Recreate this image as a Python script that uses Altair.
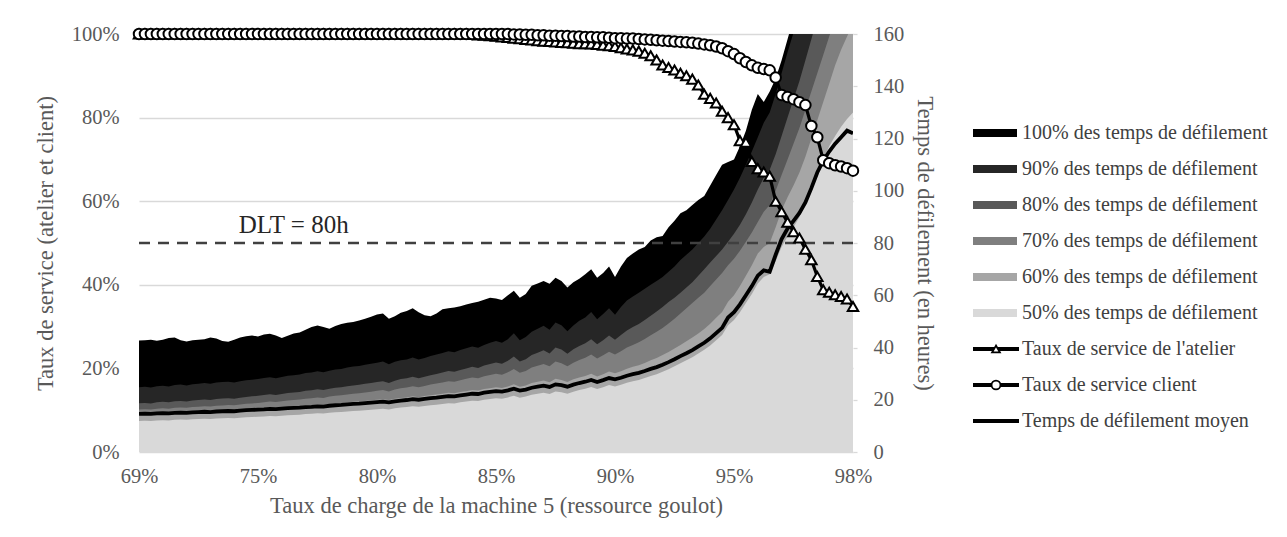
import altair as alt
import pandas as pd

FONT = "Liberation Serif"

# ---------------- data ----------------
x_tick_idx = [0, 20, 40, 60, 80, 100, 120]
x_tick_labels = ["69%", "75%", "80%", "85%", "90%", "95%", "98%"]

# lead-time percentiles (hours), one value per load level (121 levels)
p100 = [42.7, 42.8, 43.0, 42.6, 43.0, 43.6, 43.8, 42.8, 42.3, 42.8,
        43.0, 43.2, 43.8, 43.4, 42.5, 42.2, 43.0, 43.8, 44.3, 44.6,
        44.2, 45.0, 45.3, 44.6, 43.6, 44.5, 45.4, 45.7, 46.8, 47.8,
        48.4, 47.8, 47.2, 48.2, 49.0, 49.5, 49.8, 50.3, 51.0, 51.8,
        52.6, 53.0, 51.0, 52.0, 53.3, 54.0, 55.0, 53.5, 52.3, 52.0,
        53.0, 54.6, 55.0, 55.3, 55.8, 56.5, 57.0, 57.5, 58.3, 59.0,
        58.8, 58.2, 60.0, 61.7, 59.0, 60.5, 63.6, 64.5, 65.5, 64.4,
        66.7, 65.5, 63.0, 65.0, 66.3, 68.0, 70.0, 66.7, 68.5, 71.0,
        67.0, 71.0, 74.3, 76.0, 77.5, 78.5, 81.0, 82.2, 82.7, 86.0,
        88.5, 91.4, 92.5, 94.5, 96.5, 98.0, 102.0, 106.0, 110.0, 111.0,
        112.0, 117.0, 123.0, 131.0, 137.0, 134.0, 138.0, 143.0, 150.0, 158.0,
        166.0, 172.0, 178.0, 185.0, 192.0, 198.0, 205.0, 212.0, 220.0, 228.0, 235.0]

p90 = [24.8, 25.0, 24.7, 25.2, 25.4, 25.1, 25.6, 25.8, 25.5, 25.9,
       26.1, 26.4, 26.1, 26.6, 26.8, 26.9, 26.6, 27.1, 27.5, 27.7,
       27.9, 28.3, 28.6, 28.2, 28.7, 29.2, 29.4, 29.7, 30.2, 30.4,
       30.9, 30.5, 31.1, 31.6, 31.8, 32.3, 32.7, 32.9, 33.4, 33.8,
       34.2, 34.6, 33.6, 34.5, 35.1, 35.4, 36.2, 35.4, 36.0, 36.7,
       37.3, 37.9, 38.6, 38.2, 39.0, 39.7, 40.4, 39.9, 41.0, 41.8,
       42.5, 41.8, 43.2, 45.5, 42.8, 44.0, 46.0, 47.2, 48.3, 46.8,
       49.6, 48.5, 46.2, 48.4, 50.2, 51.5, 53.6, 50.8, 52.8, 55.0,
       52.5, 55.5, 58.0, 59.5, 61.0, 62.5, 64.0, 65.5, 67.0, 69.0,
       71.0, 73.5, 75.5, 77.5, 80.0, 82.5, 85.5, 89.0, 92.5, 96.5,
       100.5, 105.0, 110.0, 115.0, 120.5, 126.0, 130.0, 137.0, 145.0, 153.0,
       160.5, 168.0, 176.0, 184.0, 192.0, 200.0, 208.0, 216.0, 224.0, 232.0, 240.0]

p80 = [18.7, 18.8, 18.6, 19.0, 19.2, 19.0, 19.4, 19.5, 19.3, 19.7,
       19.9, 20.1, 19.9, 20.3, 20.5, 20.6, 20.4, 20.8, 21.1, 21.3,
       21.5, 21.8, 22.1, 21.8, 22.2, 22.6, 22.8, 23.0, 23.4, 23.6,
       24.0, 23.7, 24.2, 24.6, 24.8, 25.2, 25.5, 25.7, 26.1, 26.4,
       26.8, 27.1, 26.4, 27.3, 27.9, 28.2, 28.8, 28.2, 28.8, 29.4,
       29.9, 30.4, 31.0, 30.7, 31.4, 32.0, 32.6, 32.2, 33.1, 33.7,
       34.3, 33.8, 34.9, 36.6, 34.6, 35.5, 37.1, 38.0, 38.9, 37.7,
       40.0, 39.2, 37.6, 39.3, 40.6, 41.6, 43.2, 41.2, 42.8, 44.6,
       43.0, 44.8, 46.5, 47.8, 49.0, 50.5, 52.2, 53.8, 55.5, 57.4,
       59.0, 61.0, 63.0, 65.0, 67.5, 70.0, 72.5, 75.0, 77.5, 80.5,
       83.5, 87.0, 91.0, 95.5, 100.5, 105.0, 108.0, 114.0, 121.0, 128.0,
       135.0, 142.0, 150.0, 158.0, 166.0, 174.0, 182.0, 190.0, 198.0, 206.0, 214.0]

p70 = [16.3, 16.4, 16.3, 16.6, 16.7, 16.6, 16.9, 17.0, 16.9, 17.2,
       17.3, 17.5, 17.4, 17.7, 17.8, 18.0, 17.9, 18.2, 18.5, 18.6,
       18.8, 19.0, 19.3, 19.1, 19.4, 19.7, 19.9, 20.1, 20.4, 20.6,
       20.9, 20.7, 21.2, 21.5, 21.7, 22.0, 22.3, 22.5, 22.8, 23.1,
       23.4, 23.7, 23.2, 23.9, 24.4, 24.7, 25.2, 24.8, 25.3, 25.8,
       26.2, 26.6, 27.1, 26.9, 27.5, 28.0, 28.5, 28.2, 29.0, 29.5,
       30.0, 29.6, 30.5, 31.8, 30.3, 31.0, 32.3, 33.0, 33.7, 32.8,
       34.6, 34.0, 32.8, 34.2, 35.2, 36.1, 37.3, 35.8, 37.0, 38.4,
       37.3, 38.6, 40.0, 41.0, 42.0, 43.3, 44.7, 46.0, 47.5, 49.2,
       51.0, 53.0, 55.0, 57.0, 59.0, 61.0, 63.5, 66.0, 68.5, 71.5,
       74.0, 77.0, 80.5, 84.0, 88.0, 92.0, 94.5, 100.0, 106.0, 112.0,
       118.0, 124.0, 131.0, 138.0, 145.0, 152.0, 159.0, 166.0, 173.0, 180.0, 186.0]

p60 = [15.0, 15.1, 15.0, 15.2, 15.3, 15.2, 15.4, 15.5, 15.4, 15.6,
       15.7, 15.8, 15.7, 15.9, 16.0, 16.1, 16.0, 16.2, 16.4, 16.5,
       16.7, 16.8, 17.0, 16.9, 17.1, 17.3, 17.4, 17.6, 17.8, 17.9,
       18.1, 18.0, 18.4, 18.6, 18.7, 18.9, 19.2, 19.3, 19.5, 19.8,
       20.0, 20.2, 19.9, 20.4, 20.7, 20.9, 21.3, 21.0, 21.4, 21.7,
       22.0, 22.3, 22.7, 22.5, 23.0, 23.3, 23.7, 23.5, 24.1, 24.4,
       24.8, 24.5, 25.1, 25.9, 25.0, 25.5, 26.4, 26.9, 27.4, 26.7,
       28.0, 27.6, 26.8, 27.8, 28.5, 29.1, 30.0, 28.9, 29.8, 30.8,
       30.1, 30.9, 31.9, 32.6, 33.2, 34.1, 35.1, 36.0, 37.1, 38.3,
       39.6, 41.0, 42.4, 43.8, 45.4, 47.1, 49.1, 51.4, 53.6, 57.5,
       60.0, 63.5, 67.5, 71.5, 76.0, 78.5, 80.0, 86.0, 92.5, 97.5,
       102.0, 107.0, 113.0, 120.0, 127.0, 134.0, 141.0, 148.0, 154.0, 159.0, 164.0]

p50 = [11.9, 12.0, 11.9, 12.1, 12.2, 12.1, 12.3, 12.4, 12.3, 12.5,
       12.6, 12.7, 12.6, 12.8, 12.9, 13.0, 12.9, 13.1, 13.3, 13.4,
       13.5, 13.6, 13.8, 13.7, 13.9, 14.1, 14.2, 14.3, 14.5, 14.6,
       14.8, 14.7, 15.0, 15.2, 15.3, 15.5, 15.7, 15.8, 16.0, 16.2,
       16.4, 16.6, 16.3, 16.7, 17.0, 17.2, 17.5, 17.3, 17.6, 17.9,
       18.1, 18.4, 18.7, 18.6, 19.0, 19.3, 19.6, 19.5, 20.0, 20.3,
       20.6, 20.4, 20.9, 21.5, 20.8, 21.2, 21.9, 22.3, 22.7, 22.2,
       23.2, 22.9, 22.3, 23.1, 23.7, 24.2, 24.9, 24.1, 24.8, 25.6,
       25.1, 25.7, 26.5, 27.1, 27.6, 28.3, 29.1, 29.8, 30.7, 31.7,
       32.8, 34.0, 35.1, 36.3, 37.7, 39.1, 40.8, 42.8, 44.8, 48.5,
       50.5, 53.5, 57.0, 60.5, 64.5, 67.0, 68.0, 73.0, 78.5, 82.5,
       86.0, 90.0, 95.0, 100.5, 106.5, 112.0, 117.0, 121.0, 124.5, 127.5, 130.0]

mean_lt = [14.6, 14.7, 14.6, 14.8, 14.9, 14.8, 15.0, 15.1, 15.0, 15.2,
           15.3, 15.4, 15.3, 15.5, 15.6, 15.7, 15.6, 15.8, 16.0, 16.1,
           16.2, 16.3, 16.5, 16.4, 16.6, 16.8, 16.9, 17.0, 17.2, 17.3,
           17.5, 17.4, 17.7, 17.9, 18.0, 18.2, 18.4, 18.5, 18.7, 18.9,
           19.1, 19.3, 19.0, 19.4, 19.7, 19.9, 20.2, 20.0, 20.3, 20.6,
           20.8, 21.1, 21.4, 21.3, 21.7, 22.0, 22.3, 22.2, 22.7, 23.0,
           23.3, 23.1, 23.6, 24.2, 23.5, 23.9, 24.6, 25.0, 25.4, 24.9,
           25.9, 25.6, 25.0, 25.8, 26.4, 26.9, 27.6, 26.8, 27.5, 28.3,
           27.8, 28.4, 29.2, 29.8, 30.3, 31.0, 31.8, 32.5, 33.4, 34.4,
           35.5, 36.7, 37.8, 39.0, 40.4, 41.8, 43.5, 45.5, 47.5, 51.5,
           53.5, 56.5, 60.0, 63.5, 67.5, 69.5, 69.0, 75.5, 81.5, 85.5,
           88.5, 91.5, 95.5, 101.0, 107.0, 111.5, 115.0, 118.0, 120.5, 123.0, 122.0]

# service rates (%)
svc_atelier = [100, 100, 100, 100, 100, 100, 100, 100, 100, 100,
               100, 100, 100, 100, 100, 100, 100, 100, 100, 100,
               100, 100, 100, 100, 100, 100, 100, 100, 100, 100,
               100, 100, 100, 100, 100, 100, 100, 100, 100, 100,
               100, 100, 100, 100, 100, 100, 100, 100, 100, 100,
               100, 100, 100, 100, 100, 100, 99.9, 99.8, 99.7, 99.6,
               99.5, 99.3, 99.2, 99.0, 98.9, 98.7, 98.6, 98.4, 98.3, 98.2,
               98.1, 98.0, 97.9, 97.8, 97.7, 97.7, 97.6, 97.5, 97.3, 97.2,
               97.0, 96.7, 96.4, 96.2, 95.9, 95.4, 94.8, 93.8, 92.6, 92.0,
               91.4, 90.6, 90.0, 89.2, 87.8, 85.6, 84.6, 83.5, 81.5, 80.0,
               78.3, 74.5, 74.1, 69.5, 67.8, 67.0, 66.0, 60.0, 57.5, 55.0,
               52.7, 51.2, 48.5, 46.0, 42.0, 38.8, 38.2, 37.6, 37.2, 36.6, 34.8]

svc_client = [100, 100, 100, 100, 100, 100, 100, 100, 100, 100,
              100, 100, 100, 100, 100, 100, 100, 100, 100, 100,
              100, 100, 100, 100, 100, 100, 100, 100, 100, 100,
              100, 100, 100, 100, 100, 100, 100, 100, 100, 100,
              100, 100, 100, 100, 100, 100, 100, 100, 100, 100,
              100, 100, 100, 100, 100, 100, 100, 100, 100, 100,
              100, 100, 100, 99.9, 99.9, 99.8, 99.8, 99.7, 99.7, 99.6,
              99.6, 99.5, 99.5, 99.4, 99.4, 99.3, 99.3, 99.2, 99.2, 99.1,
              99.0, 99.0, 98.9, 98.9, 98.8, 98.7, 98.6, 98.5, 98.4, 98.3,
              98.2, 98.1, 98.0, 97.9, 97.7, 97.5, 97.3, 97.0, 96.6, 95.9,
              95.2, 94.2, 93.3, 92.5, 91.9, 91.6, 91.3, 89.6, 85.4, 84.9,
              84.4, 83.7, 83.0, 78.0, 75.3, 69.8, 69.1, 68.6, 68.3, 67.9, 67.3]

dlt_value = [80]
dlt_label = ["DLT = 80h"]
dlt_label_pos = [26]      # load-level index where the label sits
dlt_label_hours = [87]

area_names = ["100% des temps de défilement", "90% des temps de défilement",
              "80% des temps de défilement", "70% des temps de défilement",
              "60% des temps de défilement", "50% des temps de défilement"]
area_colors = ["#000000", "#262626", "#595959", "#7f7f7f", "#a6a6a6", "#d9d9d9"]
line_names = ["Taux de service de l'atelier", "Taux de service client",
              "Temps de défilement moyen"]

# ---------------- tables ----------------
n = len(p100)
idx = list(range(n))
hours = pd.DataFrame({"idx": idx, "p100": p100, "p90": p90, "p80": p80,
                      "p70": p70, "p60": p60, "p50": p50, "mean": mean_lt})
rates = pd.DataFrame({"idx": idx, "atelier": svc_atelier, "client": svc_client})
dlt_df = pd.DataFrame({"dlt": dlt_value})
dlt_txt = pd.DataFrame({"idx": dlt_label_pos, "h": dlt_label_hours, "t": dlt_label})

label_expr = " : ".join(f"datum.value == {i} ? '{l}'" for i, l in zip(x_tick_idx, x_tick_labels)) + " : ''"

LBL = 20.5
TTL = 22.5

x_enc = alt.X("idx:Q",
              scale=alt.Scale(domain=[0, n - 1], nice=False, zero=False),
              axis=alt.Axis(values=x_tick_idx, labelExpr=label_expr, labelFlush=False,
                            title="Taux de charge de la machine 5 (ressource goulot)",
                            grid=False, domain=False, ticks=False,
                            labelPadding=14, titlePadding=8,
                            labelFontSize=LBL, titleFontSize=TTL))

h_scale = alt.Scale(domain=[0, 160], nice=False)
h_axis = alt.Axis(orient="right", values=[0, 20, 40, 60, 80, 100, 120, 140, 160],
                  title="Temps de défilement (en heures)", grid=False, domain=False,
                  ticks=True, tickColor="#d9d9d9", tickSize=4, tickWidth=1.3,
                  labelPadding=16, titlePadding=9, labelFontSize=LBL, titleFontSize=TTL)

p_scale = alt.Scale(domain=[0, 100], nice=False)
p_axis = alt.Axis(orient="left", values=[0, 20, 40, 60, 80, 100],
                  labelExpr="datum.value + '%'",
                  title="Taux de service (atelier et client)", grid=True,
                  gridColor="#d9d9d9", gridWidth=1.3, domain=False, ticks=False,
                  labelPadding=20, titlePadding=14, labelFontSize=LBL, titleFontSize=TTL)

cols = ["p100", "p90", "p80", "p70", "p60", "p50"]
hour_layers = []
for col, color in zip(cols, area_colors):
    hour_layers.append(
        alt.Chart(hours).mark_area(color=color, clip=True, opacity=1)
        .encode(x=x_enc, y=alt.Y(f"{col}:Q", scale=h_scale, axis=h_axis))
    )
hour_layers.append(
    alt.Chart(hours).mark_line(color="black", strokeWidth=3.8, clip=True)
    .encode(x=x_enc, y=alt.Y("mean:Q", scale=h_scale, axis=h_axis))
)
hour_layers.append(
    alt.Chart(dlt_df).mark_rule(color="#404040", strokeDash=[11, 8], strokeWidth=2.5)
    .encode(y=alt.Y("dlt:Q", scale=h_scale, axis=h_axis))
)
hour_layers.append(
    alt.Chart(dlt_txt).mark_text(font=FONT, fontSize=25, color="#262626", align="center")
    .encode(x=x_enc, y=alt.Y("h:Q", scale=h_scale, axis=h_axis), text="t:N")
)
hours_chart = alt.layer(*hour_layers)

rate_layers = []
for col, shape, size in [("atelier", "triangle-up", 110), ("client", "circle", 110)]:
    rate_layers.append(
        alt.Chart(rates).mark_line(color="black", strokeWidth=3.2)
        .encode(x=x_enc, y=alt.Y(f"{col}:Q", scale=p_scale, axis=p_axis))
    )
    rate_layers.append(
        alt.Chart(rates).mark_point(shape=shape, size=size, filled=True, fill="white",
                                    stroke="black", strokeWidth=2, opacity=1)
        .encode(x=x_enc, y=alt.Y(f"{col}:Q", scale=p_scale, axis=p_axis))
    )
rates_chart = alt.layer(*rate_layers)

main = alt.layer(hours_chart, rates_chart).resolve_scale(y="independent").properties(
    width=714, height=418)

# ---------------- legend panel ----------------
legend_items = area_names + line_names
legend_colors = area_colors + ["#000000"] * 3
leg = pd.DataFrame({"item": legend_items,
                    "kind": ["area"] * 6 + ["triangle", "circle", "line"]})
ly = alt.Y("item:N", sort=legend_items, axis=None,
           scale=alt.Scale(type="point", domain=legend_items, range=[99, 387], padding=0))
lc = alt.Color("item:N", scale=alt.Scale(domain=legend_items, range=legend_colors), legend=None)

leg_base = alt.Chart(leg)
leg_rect = leg_base.transform_filter("datum.kind == 'area'").mark_rule(strokeWidth=8).encode(
    y=ly, x=alt.value(0), x2=alt.value(44), color=lc)
leg_line = leg_base.transform_filter("datum.kind != 'area'").mark_rule(strokeWidth=4, color="black").encode(
    y=ly, x=alt.value(0), x2=alt.value(46))
leg_tri = leg_base.transform_filter("datum.kind == 'triangle'").mark_point(
    shape="triangle-up", size=60, filled=True, fill="white", stroke="black",
    strokeWidth=1.8, opacity=1).encode(y=ly, x=alt.value(23))
leg_cir = leg_base.transform_filter("datum.kind == 'circle'").mark_point(
    shape="circle", size=80, filled=True, fill="white", stroke="black",
    strokeWidth=1.8, opacity=1).encode(y=ly, x=alt.value(23))
leg_txt = leg_base.mark_text(font=FONT, fontSize=20, color="#404040", align="left",
                             baseline="middle").encode(y=ly, x=alt.value(49), text="item:N")
legend = alt.layer(leg_rect, leg_line, leg_tri, leg_cir, leg_txt).properties(width=300, height=418)

chart = alt.hconcat(main, legend, spacing=33).properties(
    padding={"left": 26, "top": 16, "right": 2, "bottom": 5}
).configure(font=FONT).configure_view(stroke=None).configure_axis(
    labelColor="#595959", titleColor="#595959", titleFontWeight="normal",
    labelFont=FONT, titleFont=FONT
).configure_concat(spacing=33)

chart.save("out.html", embed_options={"renderer": "svg", "actions": False})
